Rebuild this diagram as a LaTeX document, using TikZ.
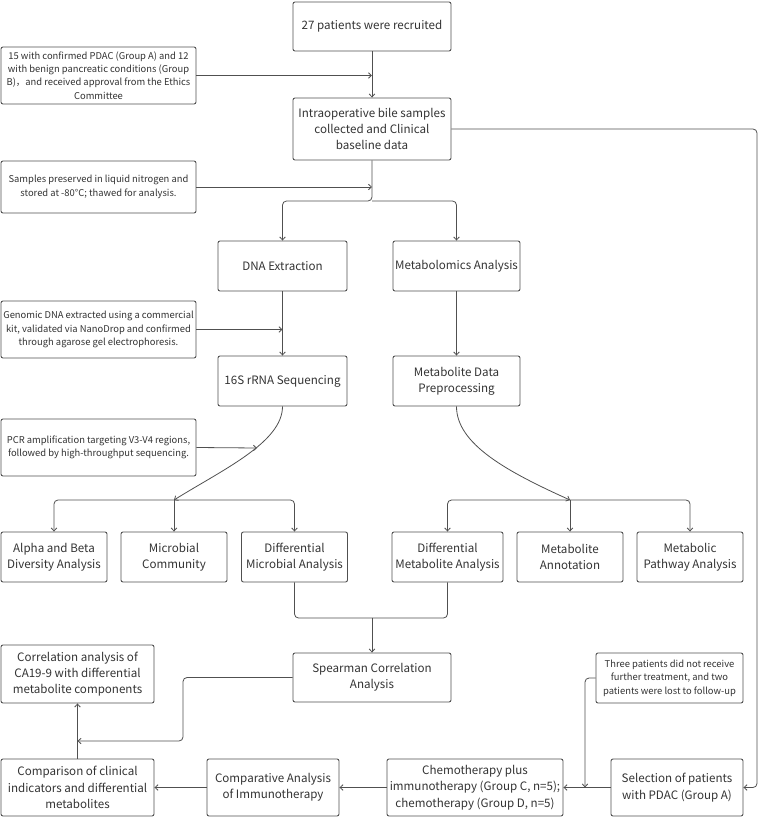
\documentclass[tikz,border=0pt]{standalone}
\usepackage{fontspec}
\setmainfont{Noto Sans CJK SC}
\usetikzlibrary{arrows.meta}
\definecolor{ln}{HTML}{505050}
\definecolor{tx}{HTML}{333333}
\tikzset{
  box/.style={draw=ln, line width=0.9pt, rounded corners=2pt, align=center, inner sep=1pt, text=tx, font=\fontsize{11.6}{16.3}\selectfont},
  note/.style={box, font=\fontsize{9.4}{13.4}\selectfont},
  conn/.style={draw=ln, line width=0.8pt},
  arr/.style={conn, -{Straight Barb[length=3pt,width=5.5pt]}},
  rc/.style={rounded corners=4pt}
}
\begin{document}
\begin{tikzpicture}[x=1pt,y=-1pt]
\useasboundingbox[fill=white] (0,0) rectangle (759,818);
% nodes
\node[box, minimum width=158pt, minimum height=49pt] (n27) at (372,26.5) {27 patients were recruited};
\node[note, minimum width=195pt, minimum height=57pt] (note1) at (98.5,75.5) {15 with confirmed PDAC (Group A) and 12\\with benign pancreatic conditions (Group\\B)，and received approval from the Ethics\\Committee};
\node[box, minimum width=158pt, minimum height=62pt] (intra) at (372,129) {Intraoperative bile samples\\collected and Clinical\\baseline data};
\node[note, minimum width=195pt, minimum height=52pt] (note2) at (98.5,187) {Samples preserved in liquid nitrogen and\\stored at -80°C; thawed for analysis.};
\node[box, minimum width=129pt, minimum height=50pt] (dna) at (282.5,266) {DNA Extraction};
\node[box, minimum width=127pt, minimum height=50pt] (meta) at (456.5,266) {Metabolomics Analysis};
\node[note, minimum width=195pt, minimum height=57pt] (note3) at (98.5,329.5) {Genomic DNA extracted using a commercial\\kit, validated via NanoDrop and confirmed\\through agarose gel electrophoresis.};
\node[box, minimum width=129pt, minimum height=50pt] (s16) at (282.5,381) {16S rRNA Sequencing};
\node[box, minimum width=127pt, minimum height=50pt] (mdp) at (456.5,381) {Metabolite Data\\Preprocessing};
\node[note, minimum width=195pt, minimum height=57pt] (note4) at (98.5,447.5) {PCR amplification targeting V3-V4 regions,\\followed by high-throughput sequencing.};
\node[box, minimum width=106pt, minimum height=50pt] (alpha) at (54,557) {Alpha and Beta\\Diversity Analysis};
\node[box, minimum width=106pt, minimum height=50pt] (mcom) at (174,557) {Microbial\\Community};
\node[box, minimum width=106pt, minimum height=50pt] (dmic) at (294.5,557) {Differential\\Microbial Analysis};
\node[box, minimum width=111pt, minimum height=50pt] (dmet) at (447.5,557) {Differential\\Metabolite Analysis};
\node[box, minimum width=106pt, minimum height=50pt] (mann) at (570,557) {Metabolite\\Annotation};
\node[box, minimum width=106pt, minimum height=50pt] (mpath) at (690,557) {Metabolic\\Pathway Analysis};
\node[box, minimum width=158pt, minimum height=49pt] (spear) at (372,677.5) {Spearman Correlation\\Analysis};
\node[box, minimum width=153pt, minimum height=58pt] (corr) at (77.5,674) {Correlation analysis of\\CA19-9 with differential\\metabolite components};
\node[box, minimum width=153pt, minimum height=57pt] (comp) at (77.5,787.5) {Comparison of clinical\\indicators and differential\\metabolites};
\node[box, minimum width=132pt, minimum height=57pt] (cai) at (273,787.5) {Comparative Analysis\\of Immunotherapy};
\node[box, minimum width=176pt, minimum height=57pt] (chemo) at (475,787.5) {Chemotherapy plus\\immunotherapy (Group C, n=5);\\chemotherapy (Group D, n=5)};
\node[box, minimum width=132pt, minimum height=57pt] (sel) at (677,787.5) {Selection of patients\\with PDAC (Group A)};
\node[note, minimum width=147pt, minimum height=50pt] (three) at (669.5,678) {Three patients did not receive\\further treatment, and two\\patients were lost to follow-up};
% coordinates
\coordinate (rcol) at (757,129);
\coordinate (b1) at (372,201);
\coordinate (b2) at (174,500);
\coordinate (b3) at (570,500);
\coordinate (b4) at (372,618);
\coordinate (c4) at (257,448);
\coordinate (k1) at (183,741);
\coordinate (k2) at (585,787.5);
% connectors
\draw[arr] (n27) -- (intra);
\draw[arr] (note1.east) -- (note1.east -| n27.south);
\draw[arr, rc] (intra.east) -- (rcol) |- (sel.east);
\draw[arr, rc] (intra.south) -- (b1) -| (dna.north);
\draw[arr, rc] (b1) -| (meta.north);
\draw[arr] (note2.east) -- (note2.east -| intra.south);
\draw[arr] (dna) -- (s16);
\draw[arr] (note3.east) -- (note3.east -| dna.south);
\draw[arr] (meta) -- (mdp);
\draw[arr] (s16.south) .. controls +(0,36) and +(48,-30) .. (b2);
\draw[arr] (note4.east) -- (c4);
\draw[arr, rc] (b2) -| (alpha.north);
\draw[arr] (b2) -- (mcom.north);
\draw[arr, rc] (b2) -| (dmic.north);
\draw[arr] (mdp.south) .. controls +(0,38) and +(-62,-28) .. (b3);
\draw[arr, rc] (b3) -| (dmet.north);
\draw[arr] (b3) -- (mann.north);
\draw[arr, rc] (b3) -| (mpath.north);
\draw[conn, rc] (dmic.south) |- (b4);
\draw[conn, rc] (dmet.south) |- (b4);
\draw[arr] (b4) -- (spear.north);
\draw[arr, rc] (spear.west) -| (k1) -- (k1 -| corr.south);
\draw[arr] (comp.north) -- (corr.south);
\draw[arr] (sel.west) -- (chemo.east);
\draw[arr, rc] (three.west) -| (k2);
\draw[arr] (chemo.west) -- (cai.east);
\draw[arr] (cai.west) -- (comp.east);
\end{tikzpicture}
\end{document}
